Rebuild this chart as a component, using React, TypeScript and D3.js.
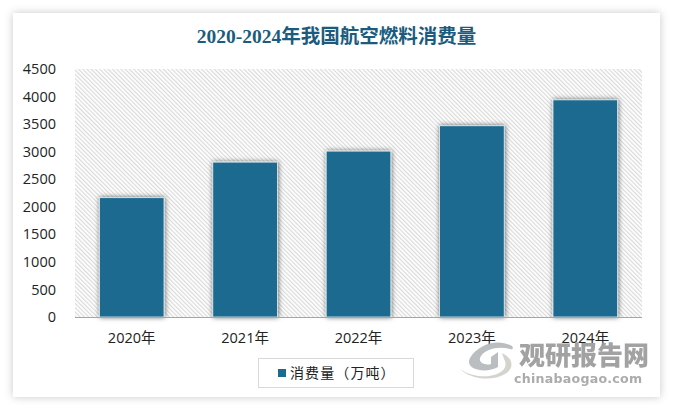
import React, { useEffect, useRef } from 'react';
import * as d3 from 'd3';

const years = ['2020年', '2021年', '2022年', '2023年', '2024年'];
const consumption = [2165, 2810, 3010, 3470, 3940];
const yTicks = [0, 500, 1000, 1500, 2000, 2500, 3000, 3500, 4000, 4500];
const titleText = '2020-2024年我国航空燃料消费量';
const seriesName = '消费量（万吨）';

const width = 673;
const height = 408;
const uiFont = '"Open Sans", "Noto Sans CJK SC", sans-serif';
const blue = '#1b6b90';

const App: React.FC = () => {
  const svgRef = useRef<SVGSVGElement>(null);

  useEffect(() => {
    if (!svgRef.current) return;
    const svg = d3.select(svgRef.current);
    svg.selectAll('*').remove();

    const defs = svg.append('defs');

    // diagonal hatch behind the bars
    const hatch = defs.append('pattern')
      .attr('id', 'hatch')
      .attr('width', 3)
      .attr('height', 3)
      .attr('patternUnits', 'userSpaceOnUse')
      .attr('patternTransform', 'rotate(-45)');
    hatch.append('rect').attr('width', 3).attr('height', 3).attr('fill', '#fff');
    hatch.append('rect').attr('width', 1.2).attr('height', 3).attr('fill', '#dadada');

    const cardShadow = defs.append('filter').attr('id', 'cardShadow')
      .attr('x', '-5%').attr('y', '-5%').attr('width', '110%').attr('height', '110%');
    cardShadow.append('feDropShadow')
      .attr('dx', 0).attr('dy', 0).attr('stdDeviation', 4)
      .attr('flood-color', '#000').attr('flood-opacity', 0.22);

    const barShadow = defs.append('filter').attr('id', 'barShadow')
      .attr('x', '-20%').attr('y', '-20%').attr('width', '140%').attr('height', '130%');
    barShadow.append('feDropShadow')
      .attr('dx', 0.5).attr('dy', 0).attr('stdDeviation', 2.6)
      .attr('flood-color', '#000').attr('flood-opacity', 0.6);

    svg.append('rect').attr('width', width).attr('height', height).attr('fill', '#fff');

    // card
    svg.append('rect')
      .attr('x', 13).attr('y', 13)
      .attr('width', 647).attr('height', 384)
      .attr('fill', '#fff')
      .attr('filter', 'url(#cardShadow)');

    // title
    svg.append('text')
      .attr('x', 336.5)
      .attr('y', 43)
      .attr('text-anchor', 'middle')
      .attr('font-family', '"Liberation Serif", "Noto Sans CJK SC", serif')
      .attr('font-size', 19.5)
      .attr('font-weight', 'bold')
      .attr('fill', '#1b5c7e')
      .text(titleText);

    const x = d3.scaleBand<string>()
      .domain(years)
      .range([75, 642])
      .paddingInner(0.43)
      .paddingOuter(0.215);

    const y = d3.scaleLinear().domain([0, 4500]).range([317, 69]);

    // plot background
    svg.append('rect')
      .attr('x', 75)
      .attr('y', y(4500))
      .attr('width', 567)
      .attr('height', y(0) - y(4500))
      .attr('fill', 'url(#hatch)');

    // bars
    svg.append('g')
      .selectAll('rect')
      .data(years)
      .enter()
      .append('rect')
      .attr('x', d => x(d) as number)
      .attr('y', (d, i) => y(consumption[i]))
      .attr('width', x.bandwidth())
      .attr('height', (d, i) => y(0) - y(consumption[i]))
      .attr('fill', blue)
      .attr('stroke', '#e4eef2')
      .attr('stroke-width', 0.8)
      .attr('filter', 'url(#barShadow)');

    // baseline
    svg.append('line')
      .attr('x1', 75).attr('x2', 642)
      .attr('y1', y(0) + 0.5).attr('y2', y(0) + 0.5)
      .attr('stroke', '#a6a6a6');

    // y axis labels
    const yAxis = svg.append('g')
      .attr('transform', 'translate(56,0)')
      .call(d3.axisLeft(y).tickValues(yTicks).tickSize(0).tickPadding(0).tickFormat(d => String(d)));
    yAxis.select('.domain').remove();
    yAxis.selectAll('text')
      .attr('font-family', uiFont)
      .attr('font-size', 14.5)
      .attr('fill', '#222');

    // x axis labels
    const xAxis = svg.append('g')
      .attr('transform', 'translate(0,333)')
      .call(d3.axisBottom(x).tickSize(0).tickPadding(0));
    xAxis.select('.domain').remove();
    xAxis.selectAll('text')
      .attr('font-family', uiFont)
      .attr('font-size', 14.5)
      .attr('fill', '#222');

    // legend
    svg.append('rect')
      .attr('x', 258.5).attr('y', 358.5)
      .attr('width', 155).attr('height', 29)
      .attr('fill', '#fff')
      .attr('stroke', '#d9d9d9');
    svg.append('rect')
      .attr('x', 278).attr('y', 369)
      .attr('width', 8).attr('height', 8)
      .attr('fill', blue);
    svg.append('text')
      .attr('x', 290)
      .attr('y', 378)
      .attr('font-family', uiFont)
      .attr('font-size', 14)
      .attr('letter-spacing', 1.1)
      .attr('fill', '#222')
      .text(seriesName);

    // watermark
    const wm = svg.append('g').attr('opacity', 0.9);
    wm.append('path')
      .attr('d', 'M470 358 C478 344 498 338 512 346 C514 348 512 350 510 349 C498 346 486 349 481 356 C477 362 484 366 491 364 L491 357 L498 352 L498 367 C486 374 464 370 470 358 Z')
      .attr('fill', '#b4b8ba');
    wm.append('path')
      .attr('d', 'M460 369 C470 376 484 378 494 375 C504 372 508 366 504 359 L502 353 C513 358 515 368 505 374 C492 382 470 379 460 369 Z')
      .attr('fill', '#d0d0ca');
    wm.append('text')
      .attr('x', 519)
      .attr('y', 365)
      .attr('font-family', '"Noto Sans CJK SC", sans-serif')
      .attr('font-size', 26)
      .attr('font-weight', 900)
      .attr('fill', '#989898')
      .text('观研报告网');
    wm.append('text')
      .attr('x', 514)
      .attr('y', 382.5)
      .attr('font-family', '"DejaVu Sans", sans-serif')
      .attr('font-size', 12.6)
      .attr('font-weight', 'bold')
      .attr('letter-spacing', 0.25)
      .attr('fill', '#a3a3a3')
      .text('chinabaogao.com');
  }, []);

  return (
    <svg
      ref={svgRef}
      width={width}
      height={height}
      style={{ position: 'absolute', left: 0, top: 0, display: 'block' }}
    />
  );
};

export default App;
